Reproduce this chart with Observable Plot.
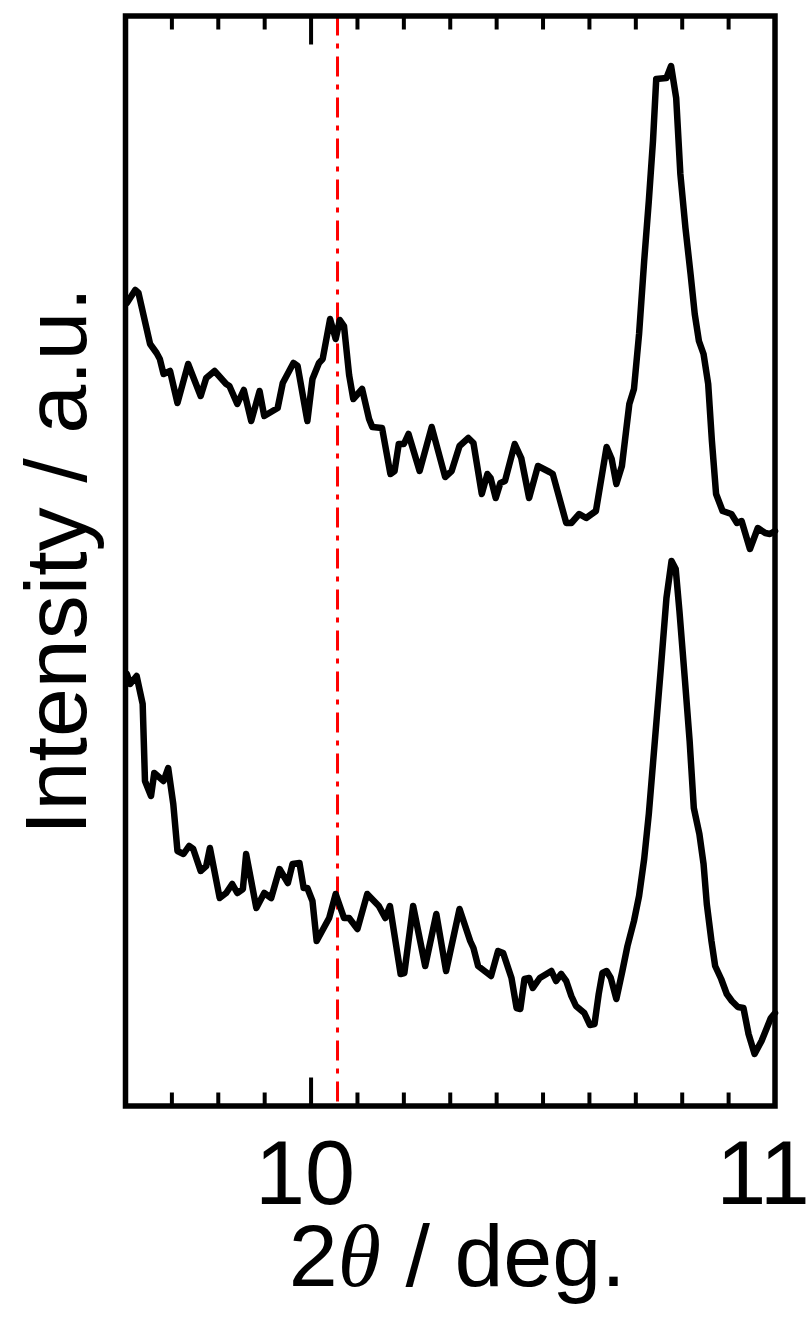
<!DOCTYPE html>
<html><head><meta charset="utf-8">
<script src="https://cdn.jsdelivr.net/npm/d3@7"></script>
<script src="https://cdn.jsdelivr.net/npm/@observablehq/plot@0.6"></script>
<style>html,body{margin:0;padding:0;background:#fff;overflow:hidden}</style>
</head><body><div id="chart"></div>
<script>
// Upper pattern: 2θ (deg) and intensity (a.u.)
const topTheta = [9.603, 9.621, 9.628, 9.653, 9.667, 9.674, 9.682, 9.696, 9.712, 9.735,
  9.762, 9.774, 9.792, 9.817, 9.824, 9.841, 9.855, 9.871, 9.889, 9.899,
  9.928, 9.939, 9.962, 9.971, 9.992, 10.003, 10.017, 10.025, 10.041, 10.053,
  10.062, 10.071, 10.082, 10.091, 10.110, 10.125, 10.132, 10.153, 10.171, 10.180,
  10.189, 10.200, 10.210, 10.234, 10.260, 10.289, 10.303, 10.320, 10.339, 10.350,
  10.368, 10.380, 10.387, 10.398, 10.408, 10.418, 10.439, 10.453, 10.470, 10.489,
  10.514, 10.521, 10.550, 10.561, 10.578, 10.593, 10.614, 10.637, 10.648, 10.658,
  10.670, 10.679, 10.686, 10.696, 10.707, 10.718, 10.728, 10.737, 10.744, 10.766,
  10.776, 10.787, 10.796, 10.807, 10.818, 10.827, 10.836, 10.846, 10.856, 10.864,
  10.873, 10.887, 10.906, 10.918, 10.928, 10.946, 10.963, 10.979, 10.989, 11.0];
const topIntensity = [803, 816, 813, 762, 753, 747, 732, 735, 703, 742,
  710, 728, 735, 722, 720, 702, 716, 685, 715, 690,
  698, 723, 743, 740, 685, 727, 743, 747, 787, 767,
  786, 780, 731, 707, 717, 687, 679, 678, 632, 635,
  662, 662, 672, 635, 679, 629, 635, 660, 668, 663,
  612, 632, 628, 608, 623, 625, 662, 648, 608, 640,
  634, 632, 583, 583, 592, 588, 595, 659, 647, 622,
  640, 675, 702, 717, 772, 845, 905, 965, 1027, 1028,
  1040, 1008, 932, 878, 832, 792, 765, 752, 722, 665,
  612, 595, 592, 583, 585, 557, 578, 573, 572, 575];

// Lower pattern
const bottomTheta = [9.603, 9.610, 9.624, 9.637, 9.642, 9.655, 9.662, 9.682, 9.692, 9.703,
  9.712, 9.725, 9.737, 9.746, 9.762, 9.774, 9.782, 9.803, 9.817, 9.830,
  9.841, 9.853, 9.860, 9.882, 9.899, 9.914, 9.932, 9.950, 9.960, 9.975,
  9.984, 9.992, 10.003, 10.012, 10.039, 10.053, 10.071, 10.082, 10.100, 10.121,
  10.146, 10.160, 10.170, 10.193, 10.201, 10.220, 10.246, 10.270, 10.291, 10.320,
  10.343, 10.350, 10.360, 10.388, 10.403, 10.414, 10.432, 10.443, 10.451, 10.460,
  10.470, 10.478, 10.493, 10.518, 10.528, 10.539, 10.550, 10.561, 10.571, 10.589,
  10.601, 10.611, 10.620, 10.628, 10.637, 10.646, 10.658, 10.671, 10.682, 10.696,
  10.707, 10.718, 10.728, 10.741, 10.754, 10.766, 10.777, 10.786, 10.794, 10.806,
  10.816, 10.825, 10.837, 10.846, 10.853, 10.863, 10.871, 10.884, 10.896, 10.907,
  10.920, 10.932, 10.943, 10.956, 10.971, 10.991, 11.0];
const bottomIntensity = [432, 422, 430, 402, 325, 310, 333, 325, 338, 302,
  255, 252, 260, 257, 235, 240, 258, 208, 213, 222,
  213, 217, 252, 198, 213, 208, 237, 223, 242, 243,
  218, 218, 205, 165, 188, 212, 188, 188, 177, 212,
  200, 188, 200, 132, 133, 200, 140, 192, 135, 197,
  165, 158, 140, 130, 155, 153, 128, 98, 97, 127,
  128, 118, 128, 135, 125, 132, 125, 110, 100, 93,
  81, 82, 112, 133, 135, 128, 107, 135, 160, 185,
  210, 247, 292, 365, 438, 508, 545, 537, 495, 425,
  365, 298, 272, 242, 202, 165, 140, 127, 112, 105,
  99, 98, 72, 52, 65, 88, 93];

const markerTheta = [10.057];
const majorTicks = [10, 11];
const minorTicks = [9.7, 9.8, 9.9, 10.1, 10.2, 10.3, 10.4, 10.5, 10.6, 10.7, 10.8, 10.9];
const xLabel = "2θ / deg.";
const yLabel = "Intensity / a.u.";

const topData = topTheta.map((x, i) => ({x, y: topIntensity[i]}));
const bottomData = bottomTheta.map((x, i) => ({x, y: bottomIntensity[i]}));

const font = "'Liberation Sans', Arial, Helvetica, sans-serif";

const chart = Plot.plot({
  width: 811,
  height: 1320,
  marginLeft: 125,
  marginRight: 36.5,
  marginTop: 15.5,
  marginBottom: 214.5,
  style: {fontFamily: font, background: "white", color: "black", overflow: "visible"},
  x: {domain: [9.6, 11]},
  y: {domain: [0, 1090], axis: null},
  marks: [
    Plot.ruleX(markerTheta, {stroke: "#ff0000", strokeWidth: 3, strokeDasharray: "20,8,5,8"}),
    Plot.line(topData, {x: "x", y: "y", stroke: "black", strokeWidth: 6.5, strokeLinejoin: "round", strokeLinecap: "round"}),
    Plot.line(bottomData, {x: "x", y: "y", stroke: "black", strokeWidth: 6.5, strokeLinejoin: "round", strokeLinecap: "round"}),
    Plot.axisX(minorTicks, {anchor: "bottom", tickSize: -13, strokeWidth: 4, tickFormat: () => "", label: null}),
    Plot.axisX(minorTicks, {anchor: "top", tickSize: -13, strokeWidth: 4, tickFormat: () => "", label: null}),
    Plot.axisX(majorTicks, {anchor: "bottom", tickSize: -28, strokeWidth: 4, tickFormat: () => "", label: null}),
    Plot.axisX(majorTicks, {anchor: "top", tickSize: -28, strokeWidth: 4, tickFormat: () => "", label: null}),
    Plot.frame({stroke: "black", strokeWidth: 5.5}),
    Plot.text(majorTicks.filter(d => d < 11), {x: d => d, text: d => String(d), frameAnchor: "bottom", lineAnchor: "top", dy: 34, dx: -6, fontSize: 90, fill: "black"}),
    Plot.text(majorTicks.filter(d => d >= 11), {x: d => d, text: d => String(d), frameAnchor: "bottom", lineAnchor: "top", dy: 34, dx: -12, fontSize: 90, fill: "black"}),
    Plot.text([xLabel], {frameAnchor: "bottom", textAnchor: "middle", lineAnchor: "bottom", dy: 180, dx: 7, fontSize: 88, fill: "black"}),
    Plot.text([yLabel], {frameAnchor: "left", textAnchor: "middle", rotate: -90, lineAnchor: "bottom", dx: -40, fontSize: 88, fill: "black"})
  ]
});

// italic theta in the x label
d3.select(chart).selectAll("text")
  .filter(function () { return this.textContent === xLabel; })
  .each(function () {
    const t = d3.select(this);
    t.text(null);
    t.append("tspan").text("2");
    t.append("tspan").attr("font-family", "'Liberation Serif', 'DejaVu Serif', serif").attr("font-style", "italic").text("θ");
    t.append("tspan").text(" / deg.");
  });

document.getElementById("chart").appendChild(chart);
</script>
</body></html>
